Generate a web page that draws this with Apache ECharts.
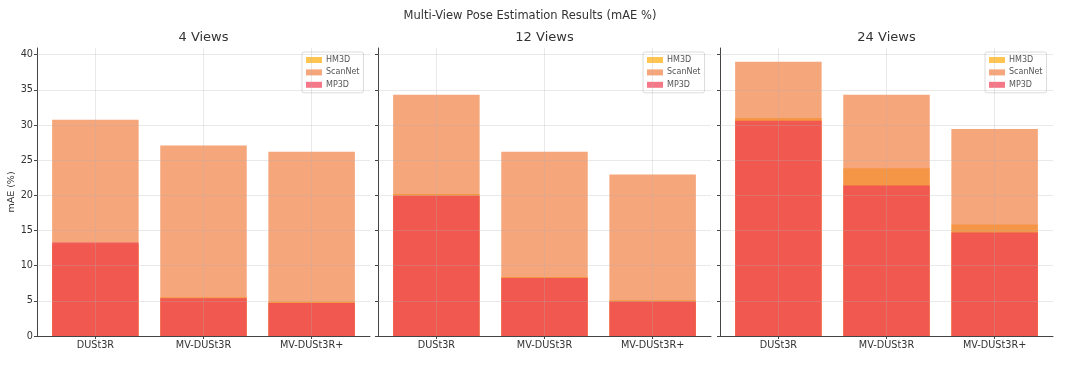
<!DOCTYPE html>
<html><head><meta charset="utf-8">
<script src="https://cdn.jsdelivr.net/npm/echarts@6/dist/echarts.min.js"></script>
<style>html,body{margin:0;padding:0;background:#fff}#c{width:1080px;height:368px}</style>
</head><body><div id="c"></div>
<script>
const mainTitle = 'Multi-View Pose Estimation Results (mAE %)';
const categories = ['DUSt3R', 'MV-DUSt3R', 'MV-DUSt3R+'];
const panelTitles = ['4 Views', '12 Views', '24 Views'];
const seriesNames = ['HM3D', 'ScanNet', 'MP3D'];
// values per panel (4, 12, 24 views), per category
const hm3d4 = [13.05, 5.5, 4.9];
const scannet4 = [30.75, 27.1, 26.2];
const mp3d4 = [13.3, 5.35, 4.7];
const hm3d12 = [20.2, 8.4, 5.1];
const scannet12 = [34.3, 26.2, 22.95];
const mp3d12 = [19.95, 8.25, 4.9];
const hm3d24 = [31.0, 23.85, 15.85];
const scannet24 = [39.0, 34.3, 29.45];
const mp3d24 = [30.6, 21.4, 14.7];
const yTicks = [0, 5, 10, 15, 20, 25, 30, 35, 40];
const yLabel = 'mAE (%)';

const panelData = [
  [hm3d4, scannet4, mp3d4],
  [hm3d12, scannet12, mp3d12],
  [hm3d24, scannet24, mp3d24]
];
const colors = ['rgba(255,170,0,0.68)', 'rgba(241,128,66,0.7)', 'rgba(240,62,84,0.7)'];
const FONT = 'DejaVu Sans';
const grids = [{left: 37, width: 333}, {left: 378, width: 333}, {left: 720, width: 333}];
const legendLeft = [302, 643, 985];
const gridColor = 'rgba(176,176,176,0.28)';
const xMin = -0.54, xMax = 2.54, yMax = 40.95;

const option = {
  animation: false,
  backgroundColor: '#fff',
  title: [{
    text: mainTitle, left: 530, top: 10, padding: 0, textAlign: 'center',
    textStyle: {fontFamily: FONT, fontSize: 11.5, fontWeight: 'normal', color: '#333'}
  }].concat(panelTitles.map((t, i) => ({
    text: t, left: grids[i].left + grids[i].width / 2, top: 31, padding: 0, textAlign: 'center',
    textStyle: {fontFamily: FONT, fontSize: 13, fontWeight: 'normal', color: '#333'}
  }))),
  legend: legendLeft.map(l => ({
    data: seriesNames, orient: 'vertical', left: l, top: 52, icon: 'rect',
    itemWidth: 16, itemHeight: 6, itemGap: 2.4,
    padding: [3, 4, 3, 4],
    backgroundColor: 'rgba(255,255,255,0.85)', borderColor: '#dcdcdc', borderWidth: 1, borderRadius: 2,
    textStyle: {fontFamily: FONT, fontSize: 8, color: '#555', lineHeight: 10, padding: [0, 0, 0, -1]},
    selectedMode: false
  })),
  grid: grids.map(g => ({left: g.left, width: g.width, top: 48, bottom: 32, containLabel: false})),
  xAxis: grids.map((g, i) => ({
    type: 'value', gridIndex: i, min: xMin, max: xMax,
    axisLine: {show: true, onZero: false, lineStyle: {color: '#444', width: 1}},
    axisTick: {show: true, length: 3, customValues: [0, 1, 2], lineStyle: {color: '#444'}},
    axisLabel: {customValues: [0, 1, 2], formatter: v => categories[Math.round(v)], margin: 4,
      fontFamily: FONT, fontSize: 9.7, color: '#333'},
    splitLine: {show: false}
  })),
  yAxis: grids.map((g, i) => ({
    type: 'value', gridIndex: i, min: 0, max: yMax,
    name: i === 0 ? yLabel : '', nameLocation: 'middle', nameGap: 19, nameRotate: 90,
    nameTextStyle: {fontFamily: FONT, fontSize: 9.5, color: '#333'},
    axisLine: {show: true, onZero: false, lineStyle: {color: '#444', width: 1}},
    axisTick: {show: true, length: 3, customValues: yTicks, lineStyle: {color: '#444'}},
    axisLabel: {show: i === 0, customValues: yTicks, margin: 4,
      fontFamily: FONT, fontSize: 9.7, color: '#333'},
    splitLine: {show: false}
  })),
  series: []
};

panelData.forEach((arrs, p) => {
  const bw = 0.8 * grids[p].width / (xMax - xMin);
  arrs.forEach((vals, s) => {
    const ser = {
      type: 'bar', name: seriesNames[s], xAxisIndex: p, yAxisIndex: p,
      data: vals.map((v, k) => [k, v]),
      barWidth: bw, barGap: '-100%',
      itemStyle: {color: colors[s]},
      emphasis: {disabled: true}
    };
    if (s === arrs.length - 1) {
      ser.markLine = {
        silent: true, symbol: ['none', 'none'], label: {show: false},
        lineStyle: {color: gridColor, width: 1, type: 'solid'},
        data: yTicks.filter(v => v > 0).map(v => ({yAxis: v}))
          .concat([0, 1, 2].map(v => ({xAxis: v})))
      };
    }
    option.series.push(ser);
  });
});

const chart = echarts.init(document.getElementById('c'), null, {renderer: 'canvas'});
chart.setOption(option);
</script>
</body></html>
